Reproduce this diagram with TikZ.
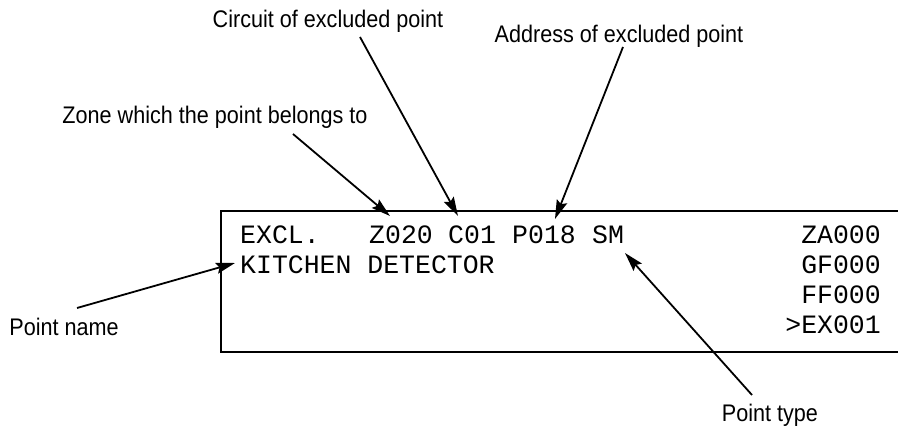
\documentclass[tikz,border=0pt]{standalone}
\usepackage{graphicx}
\usepackage{fontspec}
\setmainfont{Liberation Sans}
\newfontfamily\lcdfont{Liberation Mono}
\usetikzlibrary{arrows.meta,positioning}
\newcommand{\narrowtext}[1]{\scalebox{0.9}[1]{#1}}
\tikzstyle{desc} = [font=\fontsize{24}{28}\selectfont, inner sep=0pt, anchor=base]
\tikzstyle{lcd} = [font=\lcdfont\fontsize{26.5}{30}\selectfont, inner sep=0pt]
\tikzstyle{pointer} = [line width=1.8pt, -{Stealth[length=19pt,width=11pt,inset=3pt]}]

\begin{document}
\begin{tikzpicture}[x=1pt,y=-1pt]
\useasboundingbox (0,0) rectangle (898,430);

% Display frame (open on the right)
\draw[line width=1.8pt] (898,211) -- (221,211) -- (221,352) -- (898,352);

% Display line 1
\node[lcd, anchor=base west] (excl) at (240,244) {EXCL.};
\node[lcd, anchor=base west] (zone) at (369,244) {Z020};
\node[lcd, anchor=base west] (circ) at (448,244) {C01};
\node[lcd, anchor=base west] (addr) at (512,244) {P018};
\node[lcd, anchor=base west] (ptype) at (592,244) {SM};

% Display line 2
\node[lcd, anchor=base west] (pname) at (240,274) {KITCHEN DETECTOR};

% Counters on the right
\node[lcd, anchor=base east] (za) at (881,244) {ZA000};
\node[lcd, anchor=base east] (gf) at (881,274) {GF000};
\node[lcd, anchor=base east] (ff) at (881,304) {FF000};
\node[lcd, anchor=base east] (ex) at (881,334) {>EX001};

% Descriptions
\node[desc] (circlbl) at (328,28) {\narrowtext{Circuit of excluded point}};
\node[desc] (addrlbl) at (619,43) {\narrowtext{Address of excluded point}};
\node[desc] (zonelbl) at (215,124) {\narrowtext{Zone which the point belongs to}};
\node[desc] (namelbl) at (64,336) {\narrowtext{Point name}};
\node[desc] (typelbl) at (770,422) {\narrowtext{Point type}};

% Arrow ends
\coordinate (zonefrom) at (293,134);
\coordinate (zoneto) at (390,216);
\coordinate (circfrom) at (360,37);
\coordinate (circto) at (458,216);
\coordinate (addrfrom) at (623,47);
\coordinate (addrto) at (555,219);
\coordinate (namefrom) at (77,308);
\coordinate (nameto) at (235,263);
\coordinate (typefrom) at (752,395);
\coordinate (typeto) at (625,253);

% Arrows
\draw[pointer] (zonefrom) -- (zoneto);
\draw[pointer] (circfrom) -- (circto);
\draw[pointer] (addrfrom) -- (addrto);
\draw[pointer] (namefrom) -- (nameto);
\draw[pointer] (typefrom) -- (typeto);

\end{tikzpicture}
\end{document}
